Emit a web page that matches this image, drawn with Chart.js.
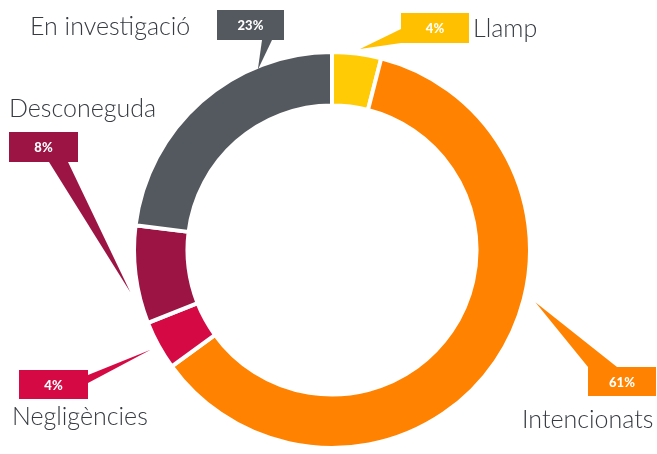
<!DOCTYPE html>
<html>
<head>
<meta charset="utf-8">
<script src="https://cdn.jsdelivr.net/npm/chart.js@4.4.1/dist/chart.umd.min.js"></script>
<style>
  html, body { margin: 0; padding: 0; background: #fff; }
  #wrap { width: 657px; height: 454px; position: relative; }
</style>
</head>
<body>
<div id="wrap"><canvas id="causes"></canvas></div>
<script>
// data (clockwise from the top)
const categories = ["Llamp", "Intencionats", "Negligències", "Desconeguda", "En investigació"];
const shares = [4, 61, 4, 8, 23];
const sliceColors = ["#FFCB05", "#FF8200", "#D50A44", "#9B1444", "#54585F"];
const boxColors = ["#FFC000", "#FF8200", "#D50A44", "#9B1444", "#54585F"];

// callout layout: box, the base of its pointer, where the tip lands in the slice,
// and where the category name is written
const callouts = [
  { box: [401, 13, 68, 30], base: [[401, 29], [401, 43]], frac: 0.55, off: 5,  name: [473, 37] },
  { box: [588, 367, 68, 29], base: [[588, 367], [617, 367]], frac: 0.41, off: 12, name: [522, 428] },
  { box: [19, 370, 69, 29], base: [[88, 375], [88, 383]], frac: 0.5, off: 9, name: [12, 425] },
  { box: [9, 132, 69, 30], base: [[49, 162], [68, 162]], frac: 0.34, off: 8,  name: [9, 117] },
  { box: [217, 10, 67, 30], base: [[262, 40], [272, 40]], frac: 0.73, off: -3, name: [30, 35] }
];

const calloutPlugin = {
  id: "callouts",
  afterDatasetsDraw(chart) {
    const ctx = chart.ctx;
    const arcs = chart.getDatasetMeta(0).data;
    const total = shares.reduce((a, b) => a + b, 0);
    arcs.forEach((arc, i) => {
      const c = callouts[i];
      const p = arc.getProps(["x", "y", "startAngle", "endAngle", "outerRadius"], true);
      const a = p.startAngle + c.frac * (p.endAngle - p.startAngle);
      const r = p.outerRadius + c.off;
      const tx = p.x + Math.cos(a) * r;
      const ty = p.y + Math.sin(a) * r;

      ctx.save();
      ctx.fillStyle = boxColors[i];
      // pointer
      ctx.beginPath();
      ctx.moveTo(c.base[0][0], c.base[0][1]);
      ctx.lineTo(tx, ty);
      ctx.lineTo(c.base[1][0], c.base[1][1]);
      ctx.closePath();
      ctx.fill();
      // box
      const [bx, by, bw, bh] = c.box;
      ctx.fillRect(bx, by, bw, bh);
      // percent
      ctx.fillStyle = "#fff";
      ctx.font = "900 13px Lato, 'Open Sans', sans-serif";
      ctx.textAlign = "center";
      ctx.textBaseline = "middle";
      ctx.fillText(Math.round(shares[i] / total * 100) + "%", bx + bw / 2, by + bh / 2 + 1);
      // category name
      ctx.fillStyle = "#363b41";
      ctx.font = "300 25px Lato, 'Open Sans', sans-serif";
      ctx.textAlign = "left";
      ctx.textBaseline = "alphabetic";
      ctx.fillText(categories[i], c.name[0], c.name[1]);
      ctx.restore();
    });
  }
};

new Chart(document.getElementById("causes"), {
  type: "doughnut",
  data: {
    labels: categories,
    datasets: [{
      data: shares,
      backgroundColor: sliceColors,
      borderColor: "#fff",
      borderWidth: 4,
      hoverOffset: 0
    }]
  },
  options: {
    responsive: true,
    maintainAspectRatio: false,
    animation: false,
    cutout: "73%",
    layout: { padding: { left: 132, right: 125, top: 50, bottom: 4 } },
    plugins: {
      legend: { display: false },
      tooltip: { enabled: false }
    }
  },
  plugins: [calloutPlugin]
});
</script>
</body>
</html>
